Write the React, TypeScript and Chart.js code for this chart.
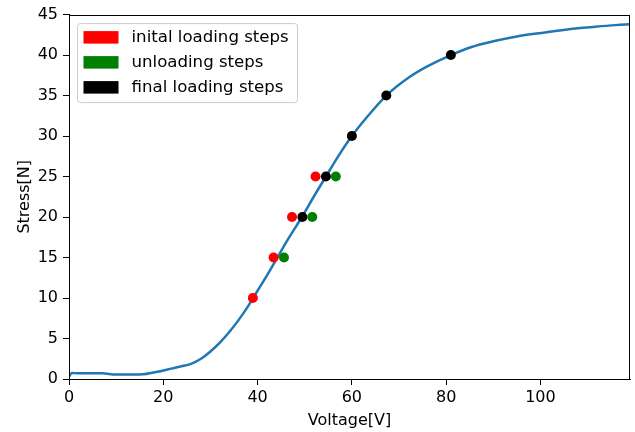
import React, { useEffect, useRef } from "react";
import { Chart, registerables } from "chart.js";

Chart.register(...registerables);

const curveX = [0, 0.6, 2, 7, 10, 15, 19.6, 22.5, 26, 28, 30, 32, 34, 36, 38, 40, 42, 44, 46.5, 49.5, 52, 54.5, 57, 60, 63, 67.3, 72, 76, 81, 85.4, 90, 95, 101, 106, 111.6, 116, 119];
const curveY = [0.3, 0.75, 0.7, 0.7, 0.55, 0.55, 1.0, 1.4, 1.9, 2.5, 3.4, 4.5, 5.8, 7.3, 9.0, 10.9, 12.8, 14.8, 17.3, 20.1, 22.6, 25, 27.4, 30, 32.2, 35, 37.2, 38.6, 40, 41, 41.7, 42.3, 42.8, 43.2, 43.5, 43.7, 43.8];

const redX = [39, 43.4, 47.3, 52.3];
const redY = [10, 15, 20, 25];
const greenX = [45.6, 51.6, 56.6];
const greenY = [15, 20, 25];
const blackX = [49.5, 54.5, 60, 67.3, 81];
const blackY = [20, 25, 30, 35, 40];

const xTicks = [0, 20, 40, 60, 80, 100];
const yTicks = [0, 5, 10, 15, 20, 25, 30, 35, 40, 45];

const legendLabels = ["inital loading steps", "unloading steps", "final loading steps"];
const legendColors = ["#ff0000", "#008000", "#000000"];

const FONT = "DejaVu Sans";
const FS = 16;

const pts = (xs: number[], ys: number[]) => xs.map((x, i) => ({ x, y: ys[i] }));

const framePlugin = {
  id: "frameAndLegend",
  afterDraw(chart: any) {
    const { ctx, chartArea } = chart;
    ctx.save();
    ctx.strokeStyle = "#000";
    ctx.lineWidth = 1;
    ctx.strokeRect(
      Math.round(chartArea.left) + 0.5,
      Math.round(chartArea.top) + 0.5,
      Math.round(chartArea.right - chartArea.left) - 1,
      Math.round(chartArea.bottom - chartArea.top)
    );
    const lx = chartArea.left + 8.5;
    const ly = chartArea.top + 9;
    ctx.beginPath();
    (ctx as any).roundRect(lx, ly, 220, 79, 3);
    ctx.fillStyle = "rgba(255,255,255,0.8)";
    ctx.fill();
    ctx.strokeStyle = "#cccccc";
    ctx.stroke();
    ctx.font = `16.6px "${FONT}"`;
    ctx.textBaseline = "middle";
    ctx.textAlign = "left";
    legendLabels.forEach((label, i) => {
      const rowY = ly + 7.5 + i * 25;
      ctx.fillStyle = legendColors[i];
      ctx.fillRect(lx + 6, rowY, 35, 12.5);
      ctx.fillStyle = "#000";
      ctx.fillText(label, lx + 54, rowY + 6.5);
    });
    ctx.restore();
  },
};

export default function App() {
  const ref = useRef<HTMLCanvasElement>(null);
  useEffect(() => {
    document.body.style.margin = "0";
    const canvas = ref.current!;
    const tickFont = { family: FONT, size: FS };
    const chart = new Chart(canvas, {
      type: "scatter",
      data: {
        datasets: [
          { label: "final", data: pts(blackX, blackY), backgroundColor: "#000", borderColor: "#000", pointRadius: 5, pointBorderWidth: 0 },
          { label: "unloading", data: pts(greenX, greenY), backgroundColor: "#008000", borderColor: "#008000", pointRadius: 5, pointBorderWidth: 0 },
          { label: "inital", data: pts(redX, redY), backgroundColor: "#ff0000", borderColor: "#ff0000", pointRadius: 5, pointBorderWidth: 0 },
          {
            type: "line",
            label: "curve",
            data: pts(curveX, curveY),
            borderColor: "#1f77b4",
            borderWidth: 2.5,
            pointRadius: 0,
            cubicInterpolationMode: "monotone",
            fill: false,
          } as any,
        ],
      },
      options: {
        responsive: false,
        animation: false,
        events: [],
        layout: { padding: { top: 14, right: 3, left: 0, bottom: 0 } },
        plugins: { legend: { display: false }, tooltip: { enabled: false } },
        scales: {
          x: {
            type: "linear",
            min: 0,
            max: 119,
            afterBuildTicks: (s: any) => {
              s.ticks = xTicks.map((v) => ({ value: v }));
            },
            afterFit: (s: any) => {
              s.height = 53;
            },
            grid: { drawOnChartArea: false, tickLength: 6, color: "#000", tickColor: "#000" },
            border: { color: "#000", width: 1 },
            ticks: { font: tickFont, color: "#000", padding: 3, maxRotation: 0 },
            title: { display: true, text: "Voltage[V]", font: tickFont, color: "#000", padding: { top: 0, bottom: 1.5 } },
          },
          y: {
            type: "linear",
            min: 0,
            max: 45,
            afterBuildTicks: (s: any) => {
              s.ticks = yTicks.map((v) => ({ value: v }));
            },
            afterFit: (s: any) => {
              s.width = 69;
            },
            grid: { drawOnChartArea: false, tickLength: 6, color: "#000", tickColor: "#000" },
            border: { color: "#000", width: 1 },
            ticks: { font: tickFont, color: "#000", padding: 5 },
            title: { display: true, text: "Stress[N]", font: tickFont, color: "#000", padding: { top: 15, bottom: 0 } },
          },
        },
      },
      plugins: [framePlugin],
    });
    return () => chart.destroy();
  }, []);
  return (
    <div style={{ width: 635, height: 432 }}>
      <canvas ref={ref} width={635} height={432} style={{ display: "block" }} />
    </div>
  );
}
